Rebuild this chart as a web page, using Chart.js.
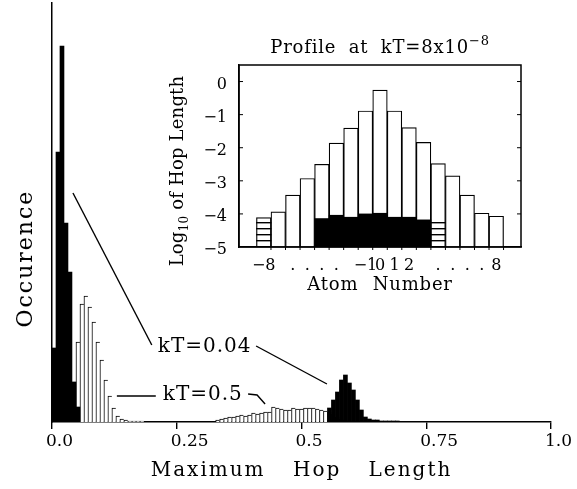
<!DOCTYPE html>
<html><head><meta charset="utf-8">
<script src="https://cdn.jsdelivr.net/npm/chart.js@4"></script>
<style>
html,body{margin:0;padding:0;background:#fff;}
#wrap{position:relative;width:577px;height:489px;overflow:hidden;}
#main{position:absolute;left:0;top:0;}
#inset{position:absolute;left:160px;top:30px;}
</style></head><body>
<div id="wrap"><canvas id="main" width="577" height="489"></canvas><canvas id="inset" width="380" height="270"></canvas></div>
<script>
const FAMILY = "'DejaVu Serif', 'Liberation Serif', serif";

// ---------- main histogram data (occurrences per bin) ----------
const binWidth = 0.008;
const kT004NearStart = 0.000;
const kT004Near = [74, 270, 376, 199, 150, 40, 15];
const kT004FarStart = 0.552;
const kT004Far = [14, 22, 30, 42, 47, 39, 32, 22, 12, 5, 3, 2, 2, 1, 1, 1, 1, 1];
const kT05NearStart = 0.024;
const kT05Near = [8, 20, 40, 80, 118, 126, 115, 100, 80, 62, 42, 26, 14, 6, 3, 2, 1, 1, 1, 1];
const kT05FarStart = 0.328;
const kT05Far = [2, 3, 4, 5, 5, 6, 7, 6, 7, 9, 8, 9, 10, 10, 15, 14, 13, 12, 12, 14, 13, 13, 14, 14, 14, 13, 12, 11, 10, 8, 5, 3, 2, 1];
const xTickValues = [0, 0.25, 0.5, 0.75, 1.0];
const xTickLabels = ['0.0', '0.25', '0.5', '0.75', '1.0'];

// ---------- inset data ----------
const atoms = [-8, -7, -6, -5, -4, -3, -2, -1, 0, 1, 2, 3, 4, 5, 6, 7, 8];
const log10Hop = [-4.11, -3.94, -3.43, -2.93, -2.50, -1.86, -1.41, -0.89, -0.26, -0.89, -1.39, -1.84, -2.48, -2.85, -3.43, -3.98, -4.07];
const denseTop = [null, null, null, null, -4.14, -4.04, -4.10, -4.00, -3.98, -4.10, -4.10, -4.18, null, null, null, null, null];
const hatchTop = [-4.15, null, null, null, null, null, null, null, null, null, null, null, -4.15, null, null, null, null];
const insetYTicks = [0, -1, -2, -3, -4, -5];
const atomTickLabels = ['\u22128', '', '.', '.', '.', '.', '', '\u22121', '0', '1', '2', '', '.', '.', '.', '.', '8'];

// ---------- helpers ----------
function binCenters(start, n) {
  return Array.from({length: n}, (_, i) => +(start + (i + 0.5) * binWidth).toFixed(4));
}
function toPoints(start, values) {
  const c = binCenters(start, values.length);
  return values.map((v, i) => ({x: c[i], y: v}));
}
function setSpacing(ctx, ls, ws) {
  if ('letterSpacing' in ctx) ctx.letterSpacing = (ls || 0) + 'px';
  if ('wordSpacing' in ctx) ctx.wordSpacing = (ws || 0) + 'px';
}
// segments: [{t, size, dy}]
function drawRich(ctx, segments, x, y, opts) {
  opts = opts || {};
  ctx.save();
  ctx.fillStyle = '#000';
  ctx.textBaseline = opts.baseline || 'alphabetic';
  ctx.textAlign = 'left';
  setSpacing(ctx, opts.ls, opts.ws);
  const widths = segments.map(s => { ctx.font = s.size + 'px ' + FAMILY; return ctx.measureText(s.t).width; });
  const total = widths.reduce((a, b) => a + b, 0);
  let start = 0;
  if (opts.align === 'center') start = -total / 2;
  else if (opts.align === 'right') start = -total;
  ctx.translate(x, y);
  if (opts.rotate) ctx.rotate(opts.rotate);
  let cx = start;
  segments.forEach((s, i) => {
    ctx.font = s.size + 'px ' + FAMILY;
    ctx.fillText(s.t, cx, s.dy || 0);
    cx += widths[i];
  });
  ctx.restore();
}

// ---------- main chart ----------
const mainDecor = {
  id: 'mainDecor',
  afterDatasetsDraw(chart) {
    const {ctx, scales: {x, y}, chartArea: a} = chart;
    const P = (vx, vy) => [x.getPixelForValue(vx), y.getPixelForValue(vy)];
    ctx.save();
    ctx.strokeStyle = '#000';
    ctx.lineWidth = 1.4;
    const line = pts => {
      ctx.beginPath();
      pts.forEach((p, i) => { const q = P(p[0], p[1]); if (i) ctx.lineTo(q[0], q[1]); else ctx.moveTo(q[0], q[1]); });
      ctx.stroke();
    };
    line([[0.042, 229], [0.200, 77]]);
    line([[0.409, 76], [0.551, 38]]);
    line([[0.130, 26], [0.208, 26]]);
    line([[0.393, 28], [0.411, 27], [0.427, 18]]);
    ctx.restore();
    let q = P(0.212, 75);
    drawRich(ctx, [{t: 'kT=0.04', size: 20}], q[0], q[1], {baseline: 'middle', ls: 1});
    q = P(0.222, 27);
    drawRich(ctx, [{t: 'kT=0.5', size: 20}], q[0], q[1], {baseline: 'middle', ls: 1});
    drawRich(ctx, [{t: 'Maximum Hop Length', size: 20}], (a.left + a.right) / 2, a.bottom + 54, {align: 'center', ls: 2, ws: 19});
    drawRich(ctx, [{t: 'Occurence', size: 22}], a.left - 20, a.top + 0.61 * (a.bottom - a.top), {align: 'center', rotate: -Math.PI / 2, ls: 2});
  }
};

new Chart(document.getElementById('main'), {
  type: 'bar',
  data: {
    datasets: [
      {
        label: 'kT=0.04',
        data: [...toPoints(kT004NearStart, kT004Near), ...toPoints(kT004FarStart, kT004Far)],
        backgroundColor: '#000', borderColor: '#000', borderWidth: 0,
        grouped: false, barPercentage: 1, categoryPercentage: 1
      },
      {
        label: 'kT=0.5',
        data: [...toPoints(kT05NearStart, kT05Near), ...toPoints(kT05FarStart, kT05Far)],
        backgroundColor: '#fff', borderColor: '#000',
        borderWidth: {left: 1, top: 1, right: 0, bottom: 0}, borderSkipped: false,
        grouped: false, barPercentage: 1, categoryPercentage: 1
      }
    ]
  },
  options: {
    responsive: false, animation: false, devicePixelRatio: 1,
    layout: {padding: {left: 0, right: 26, top: 3, bottom: 0}},
    plugins: {legend: {display: false}, tooltip: {enabled: false}, title: {display: false}},
    scales: {
      x: {
        type: 'linear', min: 0, max: 1, offset: false,
        afterBuildTicks: s => { s.ticks = xTickValues.map(v => ({value: v})); },
        afterFit: s => { s.height = 67; s.paddingLeft = 0; s.paddingRight = 0; },
        ticks: {
          callback: (v, i) => xTickLabels[i], align: 'start', labelOffset: -6, padding: 2,
          font: {family: FAMILY, size: 17}, color: '#000', maxRotation: 0, autoSkip: false
        },
        grid: {display: true, drawOnChartArea: false, drawTicks: true, tickLength: 7, color: '#000', lineWidth: 1.4, offset: false},
        border: {display: true, color: '#000', width: 1.5}
      },
      y: {
        type: 'linear', min: 0, max: 419, offset: false,
        afterFit: s => { s.width = 52; s.paddingTop = 0; s.paddingBottom = 0; },
        ticks: {display: false},
        grid: {display: false, drawTicks: false},
        border: {display: true, color: '#000', width: 1.5}
      }
    }
  },
  plugins: [mainDecor]
});

// ---------- inset chart ----------
const insetCanvas = document.getElementById('inset');
const insetCtx = insetCanvas.getContext('2d');
function makeHatch() {
  const c = document.createElement('canvas');
  c.width = 8; c.height = 6;
  const g = c.getContext('2d');
  g.fillStyle = '#000';
  g.fillRect(0, 0, 8, 1.4);
  return insetCtx.createPattern(c, 'repeat');
}

const insetDecor = {
  id: 'insetDecor',
  afterDraw(chart) {
    const {ctx, chartArea: a, scales: {x, y}} = chart;
    ctx.save();
    ctx.strokeStyle = '#000';
    ctx.lineWidth = 1.5;
    ctx.strokeRect(a.left, a.top, a.right - a.left, a.bottom - a.top);
    ctx.lineWidth = 1;
    insetYTicks.forEach(v => {
      if (v <= -5) return;
      const py = y.getPixelForValue(v);
      ctx.beginPath();
      ctx.moveTo(a.left, py); ctx.lineTo(a.left + 4, py);
      ctx.moveTo(a.right - 4, py); ctx.lineTo(a.right, py);
      ctx.stroke();
    });
    atoms.forEach(v => {
      const px = x.getPixelForValue(v + 0.5);
      ctx.beginPath(); ctx.moveTo(px, a.bottom); ctx.lineTo(px, a.bottom + 3); ctx.stroke();
    });
    ctx.restore();
    const cx = (a.left + a.right) / 2;
    drawRich(ctx, [{t: 'Profile at kT=8x10', size: 18}, {t: '\u22128', size: 13, dy: -8}], cx, a.top - 12, {align: 'center', ls: 0.8, ws: 6});
    drawRich(ctx, [{t: 'Log', size: 18}, {t: '10', size: 12, dy: 5}, {t: ' of Hop Length', size: 18}], a.left - 56, a.top + 106, {align: 'center', rotate: -Math.PI / 2, ls: 0.2});
    drawRich(ctx, [{t: 'Atom Number', size: 18}], cx, a.bottom + 43, {align: 'center', ls: 0.8, ws: 8});
  }
};

new Chart(insetCanvas, {
  type: 'bar',
  data: {
    datasets: [
      {
        label: 'dense',
        data: atoms.map((v, i) => denseTop[i] == null ? null : {x: v, y: [-5, denseTop[i]]}).filter(Boolean),
        backgroundColor: '#000', borderWidth: 0,
        grouped: false, barPercentage: 1, categoryPercentage: 1
      },
      {
        label: 'hatch',
        data: atoms.map((v, i) => hatchTop[i] == null ? null : {x: v, y: [-5, hatchTop[i]]}).filter(Boolean),
        backgroundColor: makeHatch(), borderWidth: 0,
        grouped: false, barPercentage: 1, categoryPercentage: 1
      },
      {
        label: 'Log10 of Hop Length',
        data: atoms.map((v, i) => ({x: v, y: [-5, log10Hop[i]]})),
        backgroundColor: '#fff', borderColor: '#000', borderWidth: 1.2, borderSkipped: false,
        grouped: false, barPercentage: 1, categoryPercentage: 1
      }
    ]
  },
  options: {
    responsive: false, animation: false, devicePixelRatio: 1,
    layout: {padding: {left: 0, right: 19, top: 35, bottom: 0}},
    plugins: {legend: {display: false}, tooltip: {enabled: false}, title: {display: false}},
    scales: {
      x: {
        type: 'linear', min: -9.7, max: 9.7, offset: false,
        afterBuildTicks: s => { s.ticks = atoms.map(v => ({value: v})); },
        afterFit: s => { s.height = 53; s.paddingLeft = 0; s.paddingRight = 0; },
        ticks: {
          callback: (v, i) => atomTickLabels[i], padding: 9,
          font: {family: FAMILY, size: 16}, color: '#000', maxRotation: 0, autoSkip: false
        },
        grid: {display: false, drawTicks: false, offset: false},
        border: {display: true, color: '#000', width: 1.5}
      },
      y: {
        type: 'linear', min: -5, max: 0.5, offset: false,
        afterBuildTicks: s => { s.ticks = insetYTicks.map(v => ({value: v})); },
        afterFit: s => { s.width = 79; s.paddingTop = 0; s.paddingBottom = 0; },
        ticks: {
          callback: v => v === 0 ? '0' : '\u2212' + Math.abs(v), padding: 12, labelOffset: 3,
          font: {family: FAMILY, size: 16}, color: '#000'
        },
        grid: {display: false, drawTicks: false},
        border: {display: true, color: '#000', width: 1.5}
      }
    }
  },
  plugins: [insetDecor]
});
</script>
</body></html>
